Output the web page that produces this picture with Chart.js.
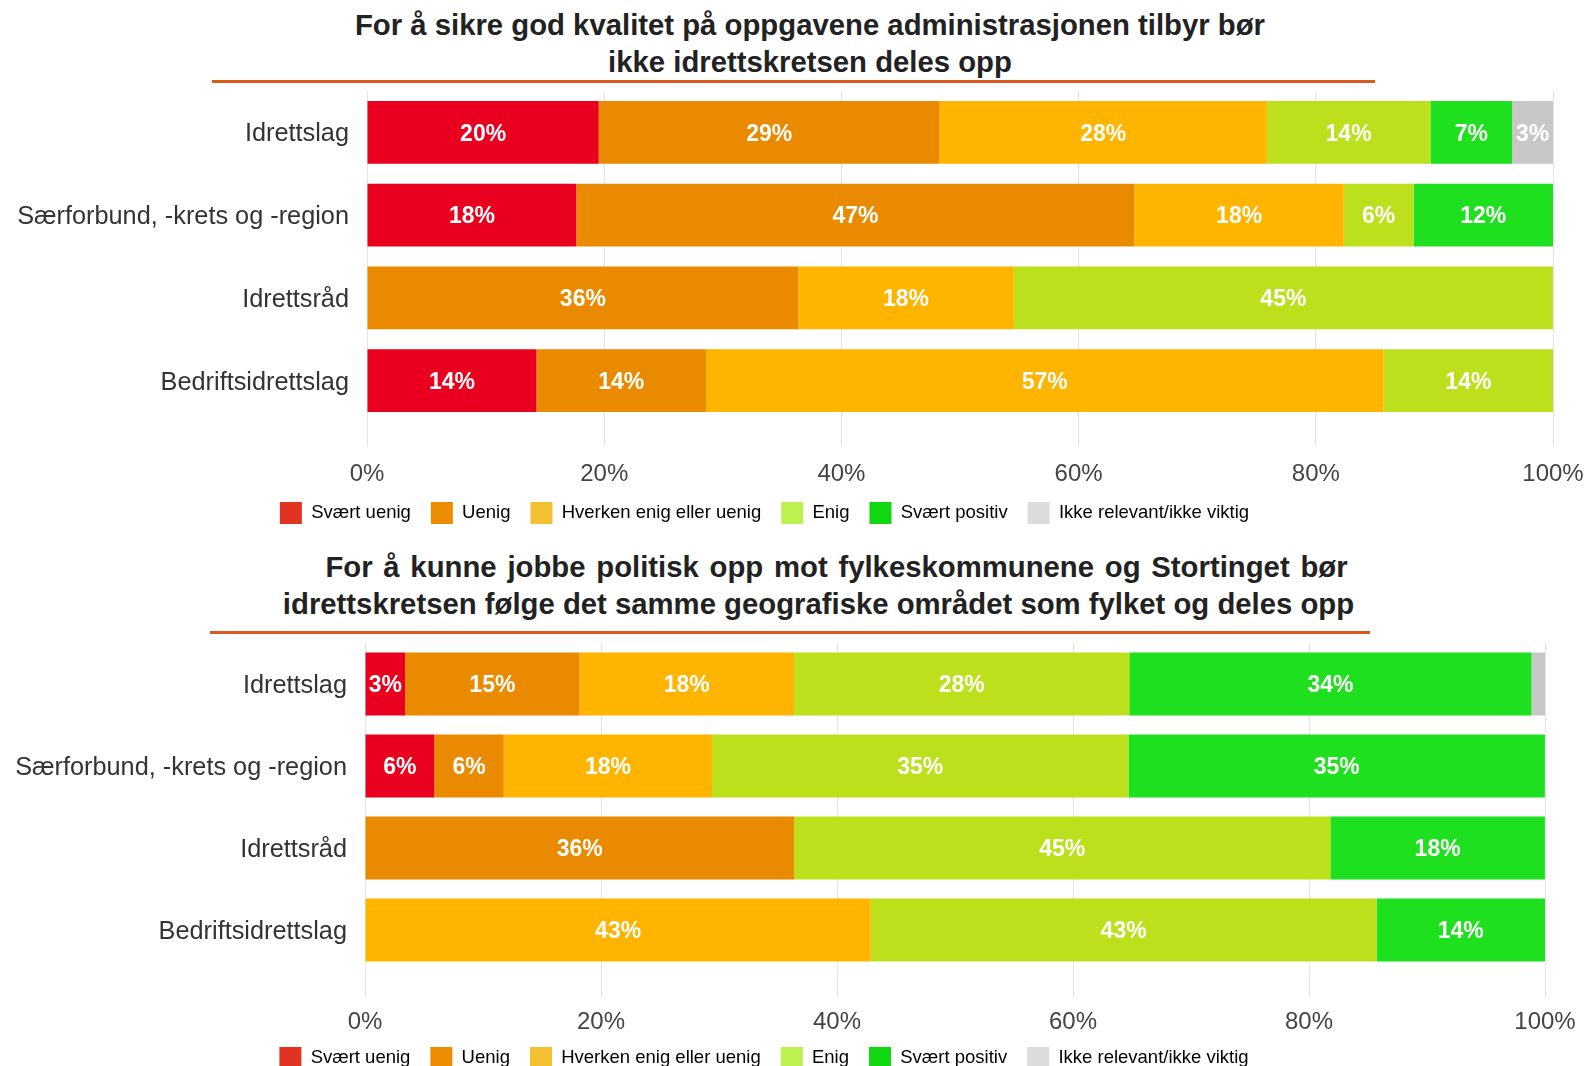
<!DOCTYPE html>
<html>
<head>
<meta charset="utf-8">
<script src="https://cdn.jsdelivr.net/npm/chart.js@4.4.0/dist/chart.umd.min.js"></script>
<style>
  body { margin: 0; background: #fff; font-family: "Liberation Sans", Arial, sans-serif; overflow: hidden; }
  .title { position: absolute; text-align: center; font-weight: bold; font-size: 29.3px; line-height: 37px; color: #222; white-space: nowrap; }
  .rule { position: absolute; height: 3px; background: #dd5a1e; }
  .box { position: absolute; }
</style>
</head>
<body>
<div class="title" style="left:0; width:1620px; top:6px;">For å sikre god kvalitet på oppgavene administrasjonen tilbyr bør<br>ikke idrettskretsen deles opp</div>
<div class="rule" style="left:212px; width:1163px; top:80px;"></div>
<div class="box" style="left:-24px; width:1609px; top:85px; height:455px;"><canvas id="kvalitet"></canvas></div>

<div class="title" style="left:0; width:1673px; top:548px; word-spacing:2.6px;">For å kunne jobbe politisk opp mot fylkeskommunene og Stortinget bør</div>
<div class="title" style="left:0; width:1637px; top:585px;">idrettskretsen følge det samme geografiske området som fylket og deles opp</div>
<div class="rule" style="left:210px; width:1160px; top:631px;"></div>
<div class="box" style="left:-17px; width:1602px; top:637px; height:452px;"><canvas id="politisk"></canvas></div>

<script>
var categories = ["Idrettslag", "Særforbund, -krets og -region", "Idrettsråd", "Bedriftsidrettslag"];
var answers = ["Svært uenig", "Uenig", "Hverken enig eller uenig", "Enig", "Svært positiv", "Ikke relevant/ikke viktig"];
var barColors = ["#e8001e", "#e98a00", "#ffb400", "#bde01c", "#1ee01e", "#c8c8c8"];
var legendColors = ["#e03322", "#ec8c00", "#f2c030", "#bef050", "#10d810", "#dcdcdc"];
var xTicks = [0, 20, 40, 60, 80, 100];

// chart 1: kvalitet (per category, same order as answers)
var kvalitetSvaertUenig = [19.54, 17.65, 0, 14.29];
var kvalitetUenig = [28.74, 47.06, 36.36, 14.29];
var kvalitetHverken = [27.59, 17.65, 18.18, 57.14];
var kvalitetEnig = [13.79, 5.88, 45.45, 14.29];
var kvalitetSvaertPositiv = [6.90, 11.76, 0, 0];
var kvalitetIkkeRelevant = [3.45, 0, 0, 0];

// chart 2: politisk
var politiskSvaertUenig = [3.41, 5.88, 0, 0];
var politiskUenig = [14.77, 5.88, 36.36, 0];
var politiskHverken = [18.18, 17.65, 0, 42.86];
var politiskEnig = [28.41, 35.29, 45.45, 42.86];
var politiskSvaertPositiv = [34.09, 35.29, 18.18, 14.29];
var politiskIkkeRelevant = [1.14, 0, 0, 0];

Chart.defaults.font.family = "'Liberation Sans', Arial, sans-serif";

var barLabels = {
  id: "barLabels",
  afterDatasetsDraw: function (chart) {
    var ctx = chart.ctx;
    ctx.save();
    ctx.font = "bold 23px 'Liberation Sans', Arial, sans-serif";
    ctx.fillStyle = "#fff";
    ctx.textAlign = "center";
    ctx.textBaseline = "middle";
    chart.data.datasets.forEach(function (ds, i) {
      var meta = chart.getDatasetMeta(i);
      meta.data.forEach(function (bar, j) {
        var v = ds.data[j];
        if (!v || v < 2) return;
        var p = bar.getProps(["x", "y", "base"], true);
        ctx.fillText(Math.round(v) + "%", (p.x + p.base) / 2, p.y + 2);
      });
    });
    ctx.restore();
  }
};

// pull the legend a bit closer to the axis labels
var legendLift = {
  id: "legendLift",
  afterLayout: function (chart, args, opts) {
    chart.legend.top -= opts.lift;
    chart.legend.bottom -= opts.lift;
  }
};

function makeChart(id, series, yWidth, rightPad, barPct, tickLen, tickPad, lift) {
  return new Chart(document.getElementById(id), {
    type: "bar",
    data: {
      labels: categories,
      datasets: series.map(function (values, i) {
        return {
          label: answers[i],
          data: values,
          backgroundColor: barColors[i],
          borderWidth: 0,
          barPercentage: barPct,
          categoryPercentage: 1
        };
      })
    },
    options: {
      indexAxis: "y",
      responsive: true,
      maintainAspectRatio: false,
      animation: false,
      layout: { padding: { top: 6, right: rightPad, bottom: 0, left: 0 } },
      scales: {
        x: {
          stacked: true,
          min: 0,
          max: 100,
          afterBuildTicks: function (scale) {
            scale.ticks = xTicks.map(function (v) { return { value: v }; });
          },
          afterFit: function (scale) {
            scale.height = 66;
            scale.paddingLeft = 0;
            scale.paddingRight = 0;
          },
          grid: { color: "#e4e4e4", tickLength: tickLen, tickColor: "#e4e4e4" },
          border: { display: false },
          ticks: {
            color: "#444",
            font: { size: 24 },
            padding: tickPad,
            callback: function (v) { return v + "%"; }
          }
        },
        y: {
          stacked: true,
          afterFit: function (scale) {
            scale.width = yWidth;
            scale.paddingTop = 0;
            scale.paddingBottom = 0;
          },
          grid: { display: false },
          border: { display: false },
          ticks: { color: "#333", font: { size: 25.3 }, padding: 10, labelOffset: 2 }
        }
      },
      plugins: {
        title: { display: false },
        tooltip: { enabled: false },
        legendLift: { lift: lift },
        legend: {
          position: "bottom",
          labels: {
            color: "#222",
            font: { size: 18.5 },
            boxWidth: 22,
            boxHeight: 22,
            padding: 20,
            generateLabels: function (chart) {
              return answers.map(function (a, i) {
                return { text: a, fillStyle: legendColors[i], strokeStyle: legendColors[i], lineWidth: 0, hidden: false, datasetIndex: i };
              });
            }
          }
        }
      }
    },
    plugins: [barLabels, legendLift]
  });
}

makeChart("kvalitet", [kvalitetSvaertUenig, kvalitetUenig, kvalitetHverken, kvalitetEnig, kvalitetSvaertPositiv, kvalitetIkkeRelevant], 391, 32, 0.761, 24, 14, 6);
makeChart("politisk", [politiskSvaertUenig, politiskUenig, politiskHverken, politiskEnig, politiskSvaertPositiv, politiskIkkeRelevant], 382, 40, 0.767, 26, 11, 10);
</script>
</body>
</html>
